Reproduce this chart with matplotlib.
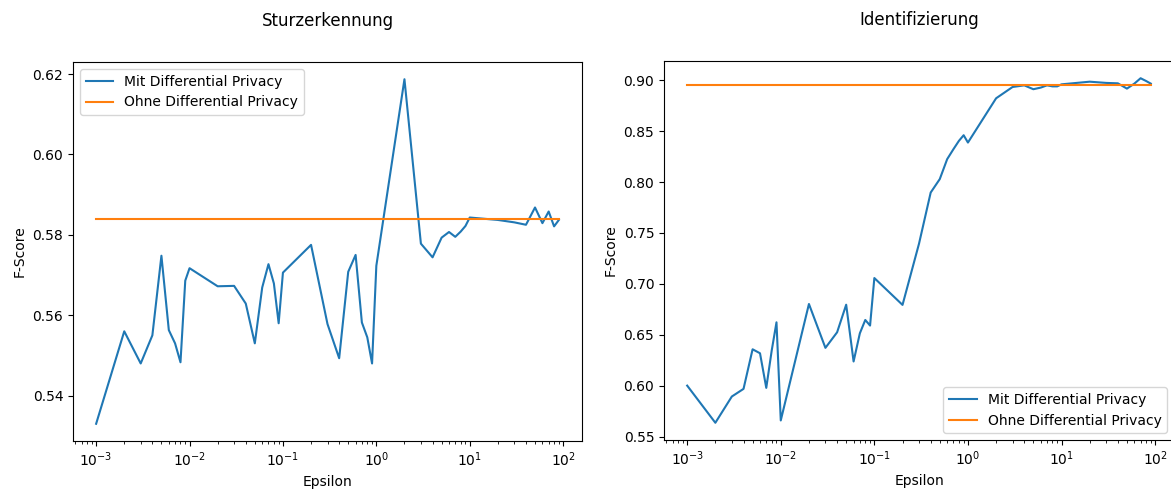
import matplotlib
matplotlib.use("Agg")
import matplotlib.pyplot as plt

# epsilon grid: 1..9 times each decade from 1e-3 to 1e1
epsilons = [m * 10.0 ** e for e in range(-3, 2) for m in range(1, 10)]

# Sturzerkennung
fall_dp = [0.533, 0.556, 0.548, 0.555, 0.5748, 0.5563, 0.553, 0.5483, 0.5686,
           0.5717, 0.5672, 0.5673, 0.5629, 0.553, 0.5669, 0.5727, 0.5679, 0.558,
           0.5706, 0.5775, 0.5578, 0.5493, 0.5708, 0.575, 0.5582, 0.5545, 0.548,
           0.5723, 0.6187, 0.5778, 0.5744, 0.5793, 0.5807, 0.5795, 0.5808, 0.5822,
           0.5843, 0.5837, 0.5831, 0.5825, 0.5868, 0.5829, 0.5858, 0.5821, 0.5837]
fall_baseline = 0.584

# Identifizierung
ident_dp = [0.600, 0.5635, 0.5893, 0.5968, 0.6357, 0.6318, 0.5978, 0.6344, 0.6622,
            0.5658, 0.6802, 0.6371, 0.6524, 0.6795, 0.6237, 0.6514, 0.6645, 0.659,
            0.7057, 0.6793, 0.7394, 0.7897, 0.8029, 0.8225, 0.8323, 0.8404, 0.846,
            0.8388, 0.8823, 0.8934, 0.895, 0.8912, 0.8928, 0.895, 0.894, 0.894,
            0.896, 0.8986, 0.8974, 0.897, 0.8918, 0.8967, 0.902, 0.8993, 0.8967]
ident_baseline = 0.8954

W, H = 1171, 490
fig, ax = plt.subplots(1, 2, figsize=(W / 100, H / 100), dpi=100)
ax[0].set_position([73 / W, (H - 441) / H, 509 / W, 379 / H])
ax[1].set_position([664 / W, (H - 440) / H, 510 / W, 379 / H])

ax[0].plot(epsilons, fall_dp, label="Mit Differential Privacy")
ax[0].plot(epsilons, [fall_baseline] * len(epsilons), label="Ohne Differential Privacy")
ax[0].set_xscale("log")
ax[0].set_xlabel("Epsilon")
ax[0].set_ylabel("F-Score")
ax[0].set_title("Sturzerkennung", pad=26)
ax[0].legend(loc="upper left")

ax[1].plot(epsilons, ident_dp, label="Mit Differential Privacy")
ax[1].plot(epsilons, [ident_baseline] * len(epsilons), label="Ohne Differential Privacy")
ax[1].set_xscale("log")
ax[1].set_xlabel("Epsilon")
ax[1].set_ylabel("F-Score")
ax[1].set_title("Identifizierung", pad=26)
ax[1].legend(loc="lower right")

plt.savefig("out.png", dpi=100)
